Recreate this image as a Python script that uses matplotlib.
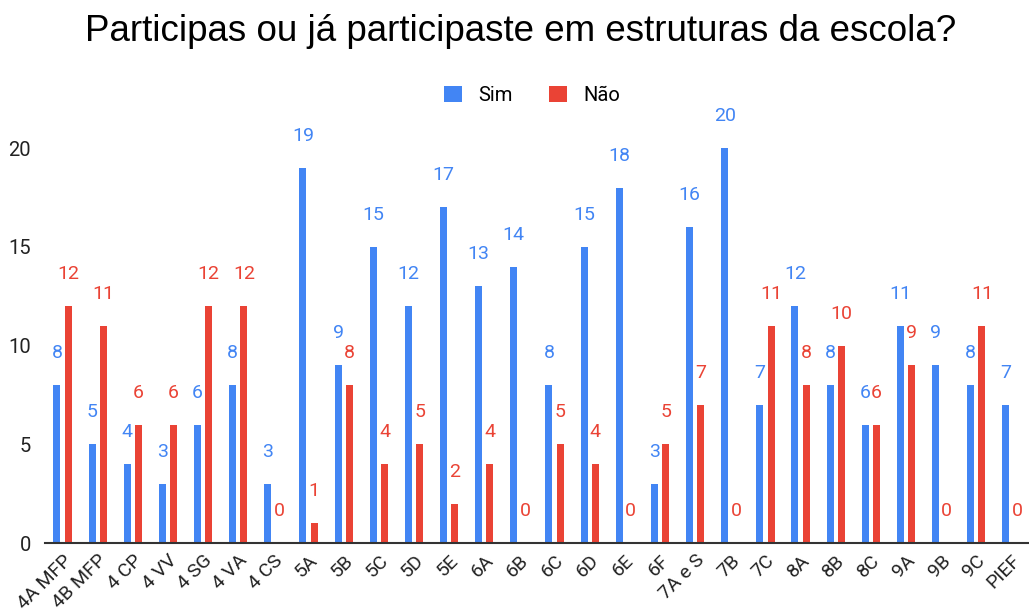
import matplotlib
matplotlib.use("Agg")
import matplotlib.pyplot as plt
import numpy as np

categories = ["4A MFP", "4B MFP", "4 CP", "4 VV", "4 SG", "4 VA", "4 CS", "5A", "5B", "5C",
              "5D", "5E", "6A", "6B", "6C", "6D", "6E", "6F", "7A e S", "7B", "7C", "8A",
              "8B", "8C", "9A", "9B", "9C", "PIEF"]
sim = [8, 5, 4, 3, 6, 8, 3, 19, 9, 15, 12, 17, 13, 14, 8, 15, 18, 3, 16, 20, 7, 12, 8, 6, 11, 9, 8, 7]
nao = [12, 11, 6, 6, 12, 12, 0, 1, 8, 4, 5, 2, 4, 0, 5, 4, 0, 5, 7, 0, 11, 8, 10, 6, 9, 0, 11, 0]
yticks = [0, 5, 10, 15, 20]

BLUE = "#4285F4"
RED = "#EA4335"
plt.rcParams['font.family'] = ['Roboto', 'DejaVu Sans']

fig = plt.figure(figsize=(10.29, 6.14), dpi=100)
ax = fig.add_axes([0.0437, 0.1156, 0.9563, 0.772])

x = np.arange(len(categories))
off = 0.16
w = 0.2
ax.bar(x - off, sim, width=w, color=BLUE, label="Sim", zorder=2)
ax.bar(x + off, nao, width=w, color=RED, label="Não", zorder=2)

for xi, s, n in zip(x, sim, nao):
    ax.annotate(str(s), (xi - off, s), xytext=(0, 23), textcoords="offset points",
                ha="center", va="center", color=BLUE, fontsize=14, clip_on=False)
    ax.annotate(str(n), (xi + off, n), xytext=(0, 23), textcoords="offset points",
                ha="center", va="center", color=RED, fontsize=14, clip_on=False)

ax.set_xlim(-0.5, len(categories) - 0.5)
ax.set_ylim(0, 24)
ax.set_yticks(yticks)
ax.set_yticklabels([str(t) for t in yticks], fontsize=14.5, color="#222222")
ax.set_xticks(x)
ax.set_xticklabels(categories, rotation=45, ha="right", rotation_mode="anchor",
                   fontsize=14, color="#222222")
ax.tick_params(axis="both", length=0)
ax.tick_params(axis="x", pad=6)
ax.tick_params(axis="y", pad=10)
for s in ["top", "right", "left"]:
    ax.spines[s].set_visible(False)
ax.spines["bottom"].set_color("#333333")
ax.spines["bottom"].set_linewidth(1.5)
ax.spines["bottom"].set_zorder(3)

fig.suptitle("Participas ou já participaste em estruturas da escola?", fontsize=26.5,
             x=0.506, y=0.978, color="black", family=['Liberation Sans', 'DejaVu Sans'])
fig.legend(loc="center", bbox_to_anchor=(0.517, 0.845), ncol=2, frameon=False,
           fontsize=14.5, handlelength=0.9, handleheight=0.9, columnspacing=1.8,
           handletextpad=0.8)

fig.savefig("out.png", dpi=100)
